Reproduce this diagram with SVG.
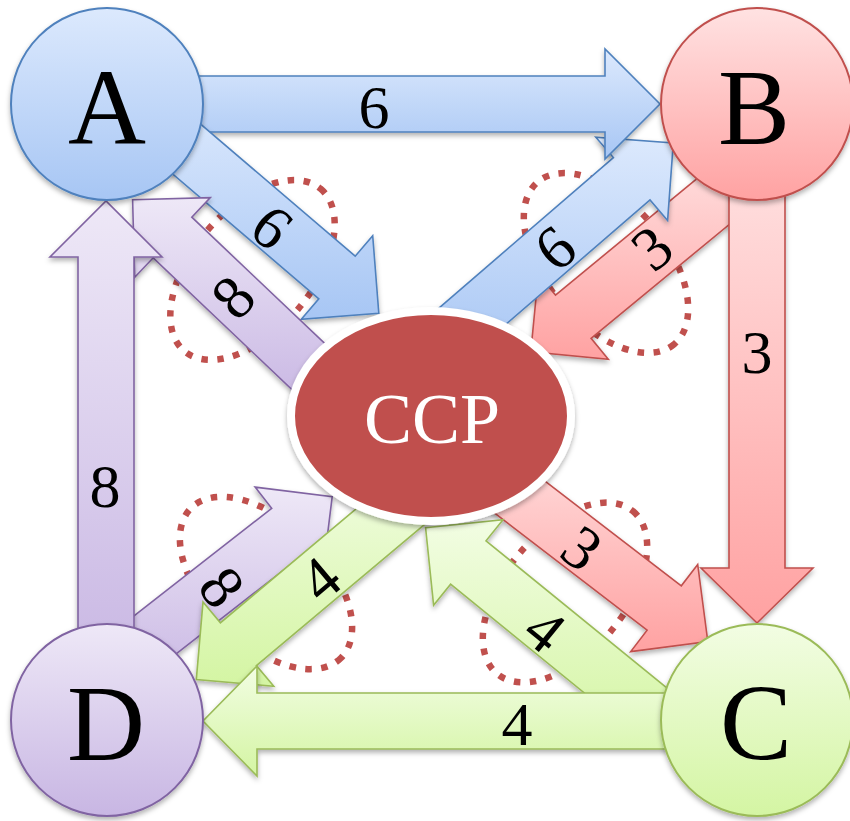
<svg xmlns="http://www.w3.org/2000/svg" width="850" height="821" viewBox="0 0 850 821">
  <defs>
    <linearGradient id="gBlue" x1="0" y1="0" x2="0" y2="1">
      <stop offset="0" stop-color="#dce9fd"/>
      <stop offset="1" stop-color="#a7c6f4"/>
    </linearGradient>
    <linearGradient id="gRed" x1="0" y1="0" x2="0" y2="1">
      <stop offset="0" stop-color="#ffe2e2"/>
      <stop offset="1" stop-color="#ffa2a2"/>
    </linearGradient>
    <linearGradient id="gGreen" x1="0" y1="0" x2="0" y2="1">
      <stop offset="0" stop-color="#f2fde3"/>
      <stop offset="1" stop-color="#d4f5a3"/>
    </linearGradient>
    <linearGradient id="gPurple" x1="0" y1="0" x2="0" y2="1">
      <stop offset="0" stop-color="#eee8f7"/>
      <stop offset="1" stop-color="#c8b6e3"/>
    </linearGradient>
    <filter id="sh" x="-20%" y="-20%" width="140%" height="140%">
      <feDropShadow dx="0" dy="3" stdDeviation="2.5" flood-color="#000" flood-opacity="0.3"/>
    </filter>
    <style>
      .arrow { stroke-width: 1.6; stroke-linejoin: miter; filter: url(#sh); }
      .blue { fill: url(#gBlue); stroke: #4f81bd; }
      .red { fill: url(#gRed); stroke: #c0504d; }
      .green { fill: url(#gGreen); stroke: #9bbb59; }
      .purple { fill: url(#gPurple); stroke: #8064a2; }
      .node { stroke-width: 2; filter: url(#sh); }
      .lbl { font-family: "Liberation Serif", "Times New Roman", serif; font-size: 62px; fill: #000; text-anchor: middle; }
      .nlbl { font-family: "Liberation Serif", "Times New Roman", serif; font-size: 108px; fill: #000; text-anchor: middle; }
      .loop { fill: none; stroke: #c0504d; stroke-width: 6.5; stroke-dasharray: 6.5 9.5; }
    </style>
  </defs>

  <rect width="850" height="821" fill="#fff"/>

  <!-- dotted exchange loops around each pair of diagonal arrows -->
  <g id="loops">
    <ellipse class="loop" cx="0" cy="0" rx="106" ry="60" transform="translate(252.5,270) rotate(-50)"/>
    <ellipse class="loop" cx="0" cy="0" rx="106" ry="60" transform="translate(606,263) rotate(50)"/>
    <ellipse class="loop" cx="0" cy="0" rx="106" ry="60" transform="translate(266,583) rotate(45)"/>
    <ellipse class="loop" cx="0" cy="0" rx="106" ry="60" transform="translate(565,592.5) rotate(-50)"/>
  </g>

  <g id="connectors">
    <!-- B -> CCP -->
    <g id="e-B-CCP">
      <polygon class="arrow red" points="733.1,148.8 555.5,295.1 538.3,274.2 530.8,351.7 608.3,359.2 591.1,338.3 768.7,192"/>
      <text class="lbl" y="21" transform="translate(652,248) rotate(-40)">3</text>
    </g>
    <!-- CCP -> B -->
    <g id="e-CCP-B">
      <polygon class="arrow blue" points="424.1,320.9 613.4,157.6 595.8,137.2 673.3,142.9 667.6,220.4 650,200 460.7,363.3"/>
      <text class="lbl" y="21" transform="translate(555,248) rotate(-40)">6</text>
    </g>
    <!-- A -> B -->
    <g id="e-A-B">
      <polygon class="arrow blue" points="150,76 605,76 605,49 660,104 605,159 605,132 150,132"/>
      <text class="lbl" x="374" y="128">6</text>
    </g>
    <!-- B -> C -->
    <g id="e-B-C">
      <polygon class="arrow red" points="729,150 729,568 701,568 757,623 813,568 785,568 785,150"/>
      <text class="lbl" x="757" y="373">3</text>
    </g>
    <!-- A -> CCP -->
    <g id="e-A-CCP">
      <polygon class="arrow blue" points="172.8,100.4 355.2,256.2 372.7,235.7 378.8,313.2 301.3,319.3 318.8,298.8 136.4,143.0"/>
      <text class="lbl" y="21" transform="translate(272,227) rotate(40)">6</text>
    </g>
    <!-- CCP -> A -->
    <g id="e-CCP-A">
      <polygon class="arrow purple" points="351.3,368.7 191.8,217.2 210.3,197.6 132.6,199.7 134.7,277.4 153.2,257.8 312.7,409.3"/>
      <text class="lbl" y="21" transform="translate(233,297) rotate(-46.6)">8</text>
    </g>
    <!-- CCP -> C -->
    <g id="e-CCP-C">
      <polygon class="arrow red" points="475.1,427.5 681.3,585.8 697.7,564.4 707.8,641.5 630.7,651.6 647.1,630.2 440.9,471.9"/>
      <text class="lbl" y="21" transform="translate(582,548) rotate(37.5)">3</text>
    </g>
    <!-- C -> CCP -->
    <g id="e-C-CCP">
      <polygon class="arrow green" points="680,698.6 486,540.8 503,519.8 425.6,527.8 433.6,605.2 450.6,584.2 644.6,742"/>
      <text class="lbl" y="21" transform="translate(545,630) rotate(39)">4</text>
    </g>
    <!-- D -> CCP -->
    <g id="e-D-CCP">
      <polygon class="arrow purple" points="90.5,649.8 271.7,508.3 255.1,487.1 332.2,496.6 322.7,573.7 306.1,552.5 124.9,694"/>
      <text class="lbl" y="21" transform="translate(222,587) rotate(52)">8</text>
    </g>
    <!-- CCP -> D -->
    <g id="e-CCP-D">
      <polygon class="arrow green" points="411.9,462 220.4,622.8 203,602.1 196.3,679.6 273.8,686.3 256.4,665.6 447.9,504.8"/>
      <text class="lbl" y="21" transform="translate(320,579) rotate(-40)">4</text>
    </g>
    <!-- D -> A -->
    <g id="e-D-A">
      <polygon class="arrow purple" points="78,680 78,257 50,257 106,201 162,257 134,257 134,680"/>
      <text class="lbl" x="105" y="507">8</text>
    </g>
    <!-- C -> D -->
    <g id="e-C-D">
      <polygon class="arrow green" points="700,693 257,693 257,666 203,721 257,776 257,749 700,749"/>
      <text class="lbl" x="517" y="745">4</text>
    </g>
  </g>

  <g id="node-CCP">
    <ellipse cx="431" cy="416" rx="140" ry="105" fill="#c0504d" stroke="#fff" stroke-width="8" filter="url(#sh)"/>
    <text x="432" y="443" font-family="Liberation Serif, Times New Roman, serif" font-size="72" fill="#fff" text-anchor="middle">CCP</text>
  </g>
  <g id="node-A">
    <circle class="node blue" cx="107" cy="104" r="96"/>
    <text class="nlbl" x="107" y="144">A</text>
  </g>
  <g id="node-B">
    <circle class="node red" cx="757" cy="104" r="96"/>
    <text class="nlbl" x="754" y="144">B</text>
  </g>
  <g id="node-C">
    <circle class="node green" cx="757" cy="720" r="96"/>
    <text class="nlbl" x="756" y="759">C</text>
  </g>
  <g id="node-D">
    <circle class="node purple" cx="107" cy="720" r="96"/>
    <text class="nlbl" x="106" y="760">D</text>
  </g>
</svg>
